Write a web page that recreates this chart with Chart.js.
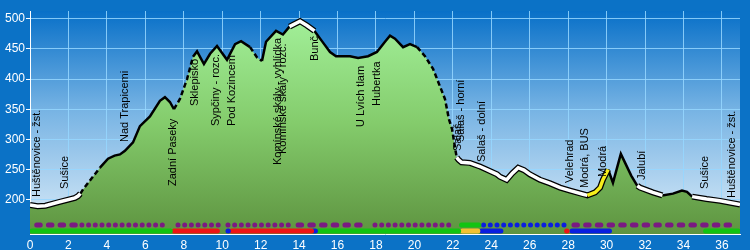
<!DOCTYPE html>
<html>
<head>
<meta charset="utf-8">
<script src="https://cdn.jsdelivr.net/npm/chart.js@4/dist/chart.umd.min.js"></script>
<style>
  html, body { margin: 0; padding: 0; background: #0b72c6; }
  canvas { display: block; }
</style>
</head>
<body>
<canvas id="profile" width="750" height="250"></canvas>
<script>
// ── Data ──────────────────────────────────────────────────────────────────────

const profileKm = [
  0, 0.4, 0.8, 1.5, 2.34, 2.5, 2.62, 2.76, 3.2, 3.64, 4.06, 4.4, 4.68, 4.94, 5.36, 5.72,
  6.24, 6.76, 7.02, 7.28, 7.49, 7.8, 8.17, 8.48, 8.69, 9.05, 9.37, 9.73, 10.25, 10.67,
  10.98, 11.45, 11.81, 12.07, 12.28, 12.8, 13.16, 13.5, 14.05, 14.41, 14.8, 15.19, 15.61,
  15.92, 16.65, 17.07, 17.59, 18.05, 18.47, 18.73, 18.99, 19.41, 19.77, 20.14, 20.55,
  20.97, 21.33, 21.59, 21.8, 21.96, 22.11, 22.2, 22.3, 22.45, 22.89, 23.41, 24.3, 24.45,
  24.8, 25.1, 25.4, 25.7, 26.01, 26.53, 27.06, 27.58, 28.1, 28.77, 29.0, 29.4, 29.66,
  29.81, 30.08, 30.33, 30.74, 31.28, 31.6, 31.74, 32.4, 32.9, 33.45, 33.92, 34.18, 34.45,
  35.2, 35.9, 36.94
];
const profileElev = [
  191, 189, 190, 196, 203, 206, 210, 217, 235, 253, 268, 273, 275, 281, 295, 322,
  338, 364, 370, 362, 350, 367, 400, 437, 446, 425, 442, 455, 432, 458,
  463, 453, 436, 430, 462, 480, 474, 487, 496, 489, 480, 463, 445,
  438, 438, 435, 438, 445, 462, 472, 467, 453, 458, 453, 438,
  417, 388, 367, 333, 317, 287, 270, 266, 262, 261, 255, 242, 238,
  233, 244, 253, 249, 242, 233, 227, 220, 215, 209, 207, 212, 220,
  233, 250, 228, 276, 240, 223, 220, 212, 207, 210, 215, 213, 205,
  201, 198, 192
];

// surface of the route (km ranges)
const roadKm   = [[0, 2.62], [13.5, 14.8], [22.2, 29.0], [31.6, 32.9], [34.45, 36.94]];
const yellowKm = [[29.0, 30.08]];
const dashedKm = [[2.62, 3.7], [7.6, 8.5], [11.45, 12.07], [20.2, 22.2]];

// stops: name, km, elevation where the text starts
const stopNames = [
  'Huštěnovice - žst.', 'Sušice', 'Nad Trapicemi', 'Zadní Paseky', 'Sklepisko',
  'Sypčiny - rozc.', 'Pod Kozincem', 'Komínské skály - vyhlídka', 'Komínské skály - rozc.',
  'Bunč', 'U Lvích tlam', 'Hubertka', 'Salaš', 'Salaš - horní', 'Salaš - dolní',
  'Velehrad', 'Modrá, BUS', 'Modrá', 'Jalubí', 'Sušice', 'Huštěnovice - žst.'
];
const stopKm = [
  0.36, 1.82, 4.94, 7.44, 8.58, 9.68, 10.51, 12.9, 13.16, 14.83, 17.22, 18.05,
  22.27, 22.42, 23.52, 28.1, 28.88, 29.81, 31.84, 35.12, 36.52
];
const stopTextBase = [
  205, 217, 295, 222, 355, 322, 323, 258, 275, 430, 320, 355,
  280, 295, 263, 228, 220, 237, 233, 217, 203
];

// trail markings: [from km, to km, colour, pattern]
const markingsUpper = [
  [0.35, 2.55, 'purple', 'dash'],
  [2.7, 7.2, 'purple', 'dot'],
  [7.7, 9.9, 'purple', 'dot'],
  [10.3, 13.5, 'purple', 'dot'],
  [13.95, 17.5, 'purple', 'dash'],
  [17.95, 22.1, 'purple', 'dot'],
  [22.45, 23.35, 'green', 'line'],
  [23.6, 27.8, 'blue', 'dot'],
  [28.3, 36.6, 'purple', 'dash']
];
const markingsLower = [
  [0.1, 7.3, 'green', 'line'],
  [7.5, 9.75, 'red', 'line'],
  [10.3, 10.32, 'blue', 'line'],
  [10.5, 14.65, 'red', 'line'],
  [14.75, 14.85, 'blue', 'line'],
  [15.0, 22.3, 'green', 'line'],
  [22.5, 23.3, 'yellow', 'line'],
  [23.5, 24.5, 'blue', 'line'],
  [27.92, 27.94, 'red', 'line'],
  [28.2, 30.15, 'blue', 'line'],
  [35.15, 36.85, 'green', 'line']
];

const xTicks = [0, 2, 4, 6, 8, 10, 12, 14, 16, 18, 20, 22, 24, 26, 28, 30, 32, 34, 36];
const yTicks = [200, 250, 300, 350, 400, 450, 500];

// ── Styles ────────────────────────────────────────────────────────────────────

const FRAME_BLUE = '#0b72c6';
const GRID = 'rgba(150,215,255,0.85)';
const SKY_STOPS   = [[0, '#0870c8'], [0.45, '#78b4e4'], [1, '#dcecf8']];
const GREEN_STOPS = [[0, '#a4f29c'], [0.5, '#84cc6c'], [1, '#5e9440']];
const MARK_COLORS = { purple: '#7a1a82', green: '#12c412', red: '#ee1414', blue: '#0a1ee0', yellow: '#f2c232' };
const MARK_DASH = { dot: [0, 6.7], dash: [3.5, 8.2], line: [] };
const ROW_UPPER = 158;
const ROW_LOWER = 148;
const FONT = '"Liberation Sans", Arial, sans-serif';

function vGradient(chart, stops) {
  const { ctx, chartArea } = chart;
  if (!chartArea) return stops[0][1];
  const g = ctx.createLinearGradient(0, chartArea.top, 0, chartArea.bottom);
  stops.forEach(([o, c]) => g.addColorStop(o, c));
  return g;
}

function inRanges(ranges, c) {
  const m = (c.p0.parsed.x + c.p1.parsed.x) / 2;
  return ranges.some(([s, e]) => m >= s && m <= e);
}

// ── Plugins ───────────────────────────────────────────────────────────────────

const backdrop = {
  id: 'backdrop',
  beforeDraw(chart) {
    const { ctx, chartArea: a, width, height } = chart;
    ctx.save();
    ctx.fillStyle = FRAME_BLUE;
    ctx.fillRect(0, 0, width, height);
    ctx.fillStyle = vGradient(chart, SKY_STOPS);
    ctx.fillRect(a.left, a.top, a.right - a.left, a.bottom - a.top);
    ctx.restore();
  }
};

const stopLabels = {
  id: 'stopLabels',
  afterDatasetsDraw(chart) {
    const { ctx, scales: { x, y } } = chart;
    ctx.save();
    ctx.font = '11px ' + FONT;
    ctx.fillStyle = '#000';
    ctx.textAlign = 'left';
    ctx.textBaseline = 'middle';
    stopNames.forEach((name, i) => {
      ctx.save();
      ctx.translate(Math.round(x.getPixelForValue(stopKm[i])), Math.round(y.getPixelForValue(stopTextBase[i])));
      ctx.rotate(-Math.PI / 2);
      ctx.fillText(name, 0, 0);
      ctx.restore();
    });
    ctx.restore();
  }
};

// ── Chart ─────────────────────────────────────────────────────────────────────

const points = profileKm.map((x, i) => ({ x, y: profileElev[i] }));
const onRoad = c => inRanges(roadKm, c) || inRanges(yellowKm, c);

function markingSet(row, level) {
  return row.map(([from, to, colour, pattern]) => ({
    data: [{ x: from, y: level }, { x: to, y: level }],
    borderColor: MARK_COLORS[colour],
    borderWidth: 5,
    borderCapStyle: 'round',
    borderDash: MARK_DASH[pattern],
    pointRadius: 0,
    fill: false,
    order: 1,
  }));
}

new Chart(document.getElementById('profile'), {
  type: 'line',
  data: {
    datasets: [
      {
        // terrain area only, no segment styles so the fill has no seams
        data: points,
        borderWidth: 0,
        borderColor: 'rgba(0,0,0,0)',
        backgroundColor: c => vGradient(c.chart, GREEN_STOPS),
        fill: 'start',
        pointRadius: 0,
        tension: 0,
        order: 4,
      },
      {
        data: points,
        borderColor: '#000',
        borderWidth: 2.5,
        borderDash: [],
        fill: false,
        pointRadius: 0,
        tension: 0,
        order: 3,
        segment: {
          borderWidth: c => onRoad(c) ? 6 : 2.5,
          borderDash: c => inRanges(dashedKm, c) ? [5, 3] : [],
        }
      },
      {
        data: points,
        borderColor: 'rgba(0,0,0,0)',
        borderWidth: 3.5,
        fill: false,
        pointRadius: 0,
        tension: 0,
        order: 2,
        segment: {
          borderColor: c => inRanges(yellowKm, c) ? '#f6ee1c' : (inRanges(roadKm, c) ? '#ffffff' : 'rgba(0,0,0,0)'),
        }
      },
      ...markingSet(markingsUpper, ROW_UPPER),
      ...markingSet(markingsLower, ROW_LOWER),
    ]
  },
  options: {
    responsive: false,
    animation: false,
    layout: { padding: { top: 11, right: 10, left: 0, bottom: 0 } },
    plugins: { legend: { display: false }, tooltip: { enabled: false } },
    scales: {
      x: {
        type: 'linear',
        min: 0,
        max: 36.94,
        afterBuildTicks: s => { s.ticks = xTicks.map(v => ({ value: v })); },
        afterFit: s => { s.height = 16; },
        grid: { color: GRID, drawTicks: false },
        border: { color: '#fff', width: 1 },
        ticks: { color: '#fff', font: { family: FONT, size: 12 }, padding: 4, maxRotation: 0, autoSkip: false }
      },
      y: {
        min: 143,
        max: 513,
        afterBuildTicks: s => { s.ticks = yTicks.map(v => ({ value: v })); },
        afterFit: s => { s.width = 30; },
        grid: { color: GRID, tickColor: '#fff', tickLength: 4 },
        border: { color: '#fff', width: 1 },
        ticks: { color: '#fff', font: { family: FONT, size: 12 }, padding: 1 }
      }
    }
  },
  plugins: [backdrop, stopLabels]
});
</script>
</body>
</html>
